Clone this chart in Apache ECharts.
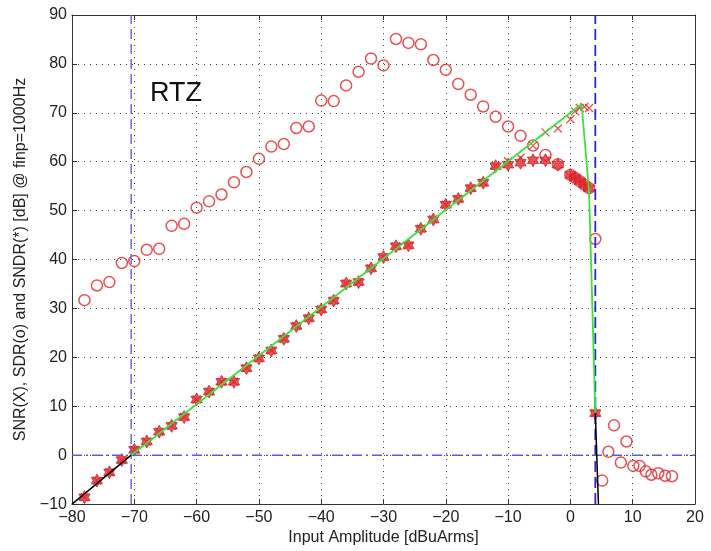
<!DOCTYPE html>
<html>
<head>
<meta charset="utf-8">
<script src="https://cdn.jsdelivr.net/npm/echarts@6/dist/echarts.min.js"></script>
<style>
  html, body { margin: 0; padding: 0; background: #fff; }
  #chart { width: 711px; height: 551px; }
</style>
</head>
<body>
<div id="chart"></div>
<script>
// input amplitude [dBuArms] of the measured points
const inputAmp = [-78, -76, -74, -72, -70, -68, -66, -64, -62, -60, -58, -56, -54, -52, -50,
  -48, -46, -44, -42, -40, -38, -36, -34, -32, -30, -28, -26, -24, -22, -20, -18, -16, -14,
  -12, -10, -8, -6, -4, -2, 0, 0.75, 1.5, 2.25, 3, 4];

// SNDR (*)
const sndr = [-8.6, -5.2, -3.5, -1.0, 1.1, 2.8, 4.8, 6.0, 7.8, 11.4, 13.0, 15.0, 15.0, 17.8, 19.8,
  21.4, 23.8, 26.4, 28.0, 29.8, 31.6, 35.1, 35.4, 38.2, 40.5, 42.7, 42.9, 46.3, 48.2, 51.2, 52.4, 54.6, 55.7,
  59.1, 59.4, 59.8, 60.3, 60.3, 59.4, 57.3, 56.7, 56.0, 55.3, 54.6, 8.6];

// SNR (X)
const snr = [-8.6, -5.2, -3.5, -1.0, 1.1, 2.8, 4.8, 6.0, 7.8, 11.4, 13.0, 15.0, 15.0, 17.8, 19.8,
  21.4, 23.8, 26.4, 28.0, 29.8, 31.6, 35.1, 35.4, 38.2, 40.5, 42.7, 42.9, 46.3, 48.2, 51.2, 52.4, 54.6, 55.7,
  59.2, 60.1, 60.8, 63.3, 66.0, 66.8, 68.7, 70.3, 71.0, 71.2, 71.0, 8.6];

// SDR (o)
const sdr = [31.7, 34.7, 35.4, 39.3, 39.7, 42.0, 42.2, 46.9, 47.3, 50.6, 51.9, 53.3, 55.8, 57.9, 60.6,
  63.1, 63.6, 66.9, 67.2, 72.5, 72.4, 75.6, 78.4, 81.1, 79.7, 85.1, 84.3, 84.0, 80.8, 78.8, 75.9, 73.7, 71.3,
  69.2, 67.2, 65.3, 63.3, 61.4, 59.5, 57.3, 56.7, 56.0, 55.3, 54.6, 44.2];

// SDR beyond clipping
const sdrTailX = [5.1, 6.1, 7.0, 8.1, 9.0, 10.1, 11.1, 12.1, 13.0, 14.1, 15.2, 16.3];
const sdrTail = [-5.2, 0.7, 6.1, -1.5, 2.8, -2.2, -2.2, -3.3, -4.0, -3.7, -4.2, -4.3];

// ideal curves
const greenX = [-70.5, 1.8, 3, 4];
const greenY = [0, 71.8, 53.8, 8.6];
const blackLowX = [-80, -70.5];
const blackLowY = [-10, 0];
const blackHighX = [4, 4.5];
const blackHighY = [8.6, -10];

// reference lines
const limitLowX = -70.5;
const limitHighX = 4;
const zeroLevel = 0;

const xTicks = { min: -80, max: 20, step: 10 };
const yTicks = { min: -10, max: 90, step: 10 };

const pairs = (xs, ys) => xs.map((x, i) => [x, ys[i]]);
const FONT = 'Liberation Sans, Arial, sans-serif';
const RED = '#e3262b';
const minus = v => String(v).replace('-', '\u2212');

const starPath = 'path://M0,-100L29,-50L87,-50L58,0L87,50L29,50L0,100L-29,50L-87,50L-58,0L-87,-50L-29,-50Z';
const crossPath = 'path://M-100,-100L100,100M-100,100L100,-100';

const chart = echarts.init(document.getElementById('chart'));

const axisBase = {
  type: 'value',
  axisLine: { show: true, onZero: false, lineStyle: { color: '#333', width: 1 } },
  axisTick: { show: true, inside: true, length: 5, lineStyle: { color: '#333' } },
};

chart.setOption({
  animation: false,
  backgroundColor: '#fff',
  grid: { left: 72, right: 16, top: 15, bottom: 46 },
  xAxis: [
    Object.assign({}, axisBase, {
      min: xTicks.min, max: xTicks.max, interval: xTicks.step,
      name: 'Input Amplitude [dBuArms]', nameLocation: 'middle', nameGap: 24,
      nameTextStyle: { fontFamily: FONT, fontSize: 16, color: '#222' },
      axisLabel: { margin: 5, fontFamily: FONT, fontSize: 16, color: '#222', formatter: minus },
      splitLine: { show: true, lineStyle: { color: '#444', type: [1, 5], width: 1 } }
    }),
    Object.assign({}, axisBase, {
      position: 'top', min: xTicks.min, max: xTicks.max, interval: xTicks.step,
      axisLabel: { show: false }, splitLine: { show: false }
    })
  ],
  yAxis: [
    Object.assign({}, axisBase, {
      min: yTicks.min, max: yTicks.max, interval: yTicks.step,
      name: 'SNR(X), SDR(o) and SNDR(*) [dB] @ finp=1000Hz', nameLocation: 'middle', nameGap: 34,
      nameTextStyle: { fontFamily: FONT, fontSize: 16, color: '#222' },
      axisLabel: { margin: 5, fontFamily: FONT, fontSize: 16, color: '#222', formatter: minus },
      splitLine: { show: true, lineStyle: { color: '#444', type: [1, 5], width: 1 } }
    }),
    Object.assign({}, axisBase, {
      position: 'right', min: yTicks.min, max: yTicks.max, interval: yTicks.step,
      axisLabel: { show: false }, splitLine: { show: false }
    })
  ],
  graphic: [{
    type: 'text', left: 150, top: 80,
    style: { text: 'RTZ', fontFamily: FONT, fontSize: 27, fill: '#111' }
  }],
  series: [
    {
      type: 'line', data: [[limitLowX, yTicks.min], [limitLowX, yTicks.max]],
      symbol: 'none', silent: true,
      lineStyle: { color: '#6a6ae0', width: 1.5, type: [10, 5] }
    },
    {
      type: 'line', data: [[limitHighX, yTicks.min], [limitHighX, yTicks.max]],
      symbol: 'none', silent: true,
      lineStyle: { color: '#2a2ad0', width: 1.8, type: [11, 5] }
    },
    {
      type: 'line', data: [[xTicks.min, zeroLevel], [xTicks.max, zeroLevel]],
      symbol: 'none', silent: true,
      lineStyle: { color: '#5a5ae0', width: 1.5, type: [10, 4, 2, 4] }
    },
    {
      type: 'scatter', data: pairs(inputAmp, sndr), symbol: starPath, symbolSize: 13,
      symbolKeepAspect: true,
      itemStyle: { color: RED, borderColor: '#b01818', borderWidth: 0.8 }
    },
    {
      type: 'scatter', data: pairs(inputAmp, snr), symbol: crossPath, symbolSize: 8,
      symbolKeepAspect: true,
      itemStyle: { color: 'rgba(0,0,0,0)', borderColor: RED, borderWidth: 1.3 }
    },
    {
      type: 'scatter', data: pairs(inputAmp, sdr).concat(pairs(sdrTailX, sdrTail)),
      symbol: 'circle', symbolSize: 11,
      itemStyle: { color: 'rgba(0,0,0,0)', borderColor: RED, borderWidth: 1.5 }
    },
    {
      type: 'line', data: pairs(greenX, greenY), symbol: 'none', silent: true,
      lineStyle: { color: '#3ee03e', width: 1.8 }
    },
    {
      type: 'line', data: pairs(blackLowX, blackLowY), symbol: 'none', silent: true,
      lineStyle: { color: '#000', width: 1.5 }
    },
    {
      type: 'line', data: pairs(blackHighX, blackHighY), symbol: 'none', silent: true,
      lineStyle: { color: '#000', width: 1.5 }
    }
  ]
});
</script>
</body>
</html>
